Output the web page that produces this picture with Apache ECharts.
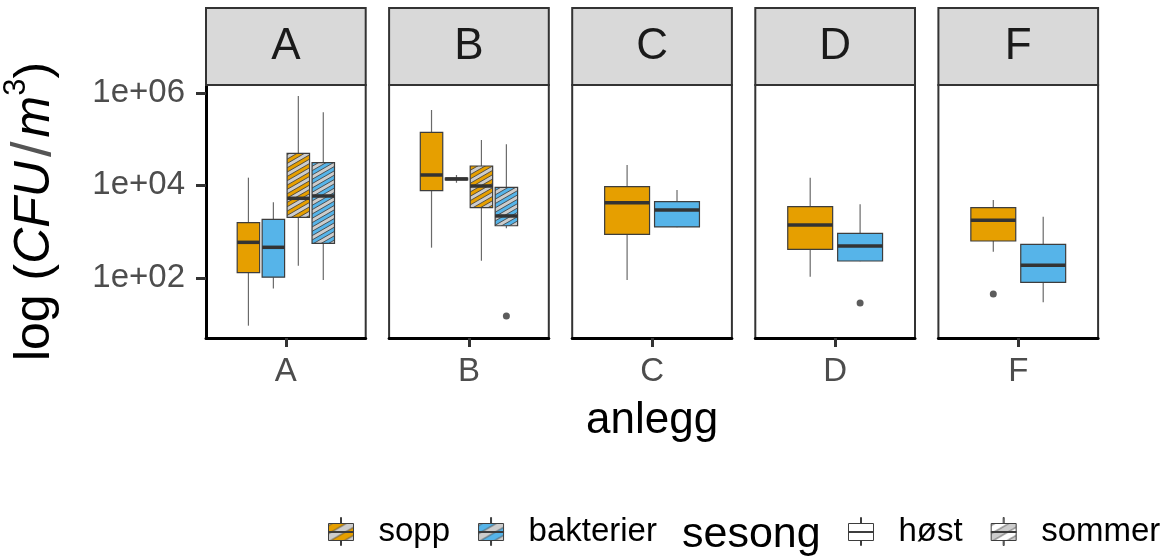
<!DOCTYPE html>
<html>
<head>
<meta charset="utf-8">
<script src="https://cdn.jsdelivr.net/npm/echarts@6/dist/echarts.min.js"></script>
<style>
html,body{margin:0;padding:0;background:#fff;}
#chart{width:1168px;height:559px;}
</style>
</head>
<body>
<div id="chart"></div>
<script>
// ---------------- data (CFU/m3) ----------------
const panels = ['A', 'B', 'C', 'D', 'F'];
// each entry: [lower whisker, Q1, median, Q3, upper whisker]; null = no such group in that panel
const soppHost = [
  [9.2, 129, 586, 1560, 14700],
  [449, 7680, 16800, 141000, 428000],
  [90, 875, 4220, 9370, 27700],
  [106, 414, 1390, 3460, 14700],
  [367, 626, 1757, 3290, 4830]
];
const bakterierHost = [
  [59, 103, 457, 1846, 4310],
  [11400, 13200, 13800, 14400, 16800],
  [1240, 1260, 2940, 4440, 7950],
  [228, 231, 488, 919, 3900],
  [29.5, 80, 187, 531, 2100]
];
const soppSommer = [
  [183, 2040, 5260, 49500, 861000],
  [234, 3290, 9700, 26300, 96100],
  null, null, null
];
const bakterierSommer = [
  [90, 558, 5900, 31000, 382000],
  [1180, 1340, 2180, 9100, 77600],
  null, null, null
];
// outliers
const outlierPanel = ['B', 'D', 'F'];
const outlierGroup = [3, 1, 0];          // index into groupStats
const outlierValue = [14.9, 28.5, 44.6];
// y-axis ticks
const yTickValues = [100, 10000, 1000000];
const yTickLabels = ['1e+02', '1e+04', '1e+06'];

// ---------------- styling / layout ----------------
const FONT = "'Liberation Sans', Arial, Helvetica, sans-serif";
const ORANGE = '#E69F00', BLUE = '#56B4E9';
const Y_MIN = 0.697, Y_MAX = 6.173;     // log10 range of the panels
const PANEL_LEFT0 = 206, PANEL_STEP = 183.1, PANEL_W = 159.7;
const PANEL_TOP = 85, PANEL_BOTTOM_Y = 338;
const DODGE = 0.75;

function makeHatch(bg, P) {
  const th = Math.PI / 6;
  const W = Math.round(8 * P), H = Math.round(6 * P / Math.cos(th));
  const c = document.createElement('canvas');
  c.width = W; c.height = H;
  const ctx = c.getContext('2d');
  ctx.fillStyle = bg; ctx.fillRect(0, 0, W, H);
  ctx.save();
  ctx.rotate(-th);
  for (let k = -30; k <= 30; k++) {
    const y0 = k * P;
    ctx.fillStyle = '#cccccc';
    ctx.fillRect(-400, y0, 800, P / 2);
    ctx.strokeStyle = '#333333';
    ctx.lineWidth = 0.7;
    ctx.beginPath();
    ctx.moveTo(-400, y0); ctx.lineTo(400, y0);
    ctx.moveTo(-400, y0 + P / 2); ctx.lineTo(400, y0 + P / 2);
    ctx.stroke();
  }
  ctx.restore();
  return { image: c, repeat: 'repeat' };
}

const groupStats = [soppHost, bakterierHost, soppSommer, bakterierSommer];
const groupFill = [ORANGE, BLUE, makeHatch(ORANGE, 7.5), makeHatch(BLUE, 7.5)];

const grids = [], xAxes = [], yAxes = [], series = [], graphics = [];
const log10 = Math.log10;

panels.forEach((p, i) => {
  const left = PANEL_LEFT0 + i * PANEL_STEP;
  grids.push({
    left: left, top: PANEL_TOP, width: PANEL_W, height: PANEL_BOTTOM_Y - PANEL_TOP,
    show: true, backgroundColor: '#ffffff', borderColor: '#333333', borderWidth: 2
  });
  xAxes.push({
    gridIndex: i, type: 'value', min: -0.6, max: 0.6,
    axisLine: { show: true, onZero: false, lineStyle: { color: '#000', width: 3 } },
    axisTick: { show: true, customValues: [0], length: 9, lineStyle: { color: '#333', width: 3 } },
    axisLabel: { show: true, customValues: [0], formatter: () => p, fontSize: 33, color: '#4d4d4d', margin: 17, fontFamily: FONT },
    splitLine: { show: false },
    name: i === 2 ? 'anlegg' : '', nameLocation: 'middle', nameGap: 61,
    nameTextStyle: { fontSize: 44, color: '#000', fontFamily: FONT }
  });
  yAxes.push({
    gridIndex: i, type: 'value', min: Y_MIN, max: Y_MAX, show: i === 0,
    axisLine: { show: true, onZero: false, lineStyle: { color: '#000', width: 3 } },
    axisTick: { show: true, customValues: yTickValues.map(log10), length: 10, lineStyle: { color: '#333', width: 3 } },
    axisLabel: {
      show: true, customValues: yTickValues.map(log10),
      formatter: v => {
        let best = 0;
        yTickValues.forEach((t, k) => { if (Math.abs(log10(t) - v) < Math.abs(log10(yTickValues[best]) - v)) best = k; });
        return yTickLabels[best];
      },
      fontSize: 33, color: '#4d4d4d', margin: 21, fontFamily: FONT
    },
    splitLine: { show: false },
    name: i === 0 ? '{n|log (}{i|CFU}{sl|/}{i|m}{sup|3}{n|)}' : '',
    nameLocation: 'middle', nameRotate: 90, nameGap: 137,
    nameTextStyle: {
      fontSize: 50, color: '#000', fontFamily: FONT,
      rich: {
        n: { fontSize: 50, fontFamily: FONT, color: '#000', lineHeight: 68 },
        i: { fontSize: 50, fontFamily: FONT, color: '#000', fontStyle: 'italic', lineHeight: 68 },
        sl: { fontSize: 56, fontFamily: FONT, color: '#555', padding: [0, 4, 0, 4], lineHeight: 68 },
        sup: { fontSize: 31, fontFamily: FONT, color: '#000', verticalAlign: 'top', lineHeight: 31 }
      }
    }
  });

  // groups present in this panel, dodged like position_dodge(0.75)
  const present = [];
  groupStats.forEach((g, gi) => { if (g[i]) present.push(gi); });
  const n = present.length;
  const xOf = gi => (present.indexOf(gi) - (n - 1) / 2) * DODGE / n;
  const boxW = 0.9 * DODGE / n;
  const boxData = present.map(gi => {
    const s = groupStats[gi][i];
    return [xOf(gi), log10(s[0]), log10(s[1]), log10(s[2]), log10(s[3]), log10(s[4]), gi, boxW];
  });
  series.push({
    type: 'custom', name: 'box-' + p, xAxisIndex: i, yAxisIndex: i,
    data: boxData, encode: { x: 0, y: [1, 2, 3, 4, 5] }, silent: true, z: 3,
    renderItem: function (params, api) {
      const x = api.value(0);
      const c = v => api.coord([x, v]);
      const pMin = c(api.value(1)), pQ1 = c(api.value(2)), pMed = c(api.value(3)),
            pQ3 = c(api.value(4)), pMax = c(api.value(5));
      const gi = api.value(6);
      const w = api.size([api.value(7), 0])[0];
      const cx = pMed[0];
      const wh = { stroke: '#6a6a6a', lineWidth: 1.2 };
      return {
        type: 'group', children: [
          { type: 'line', shape: { x1: cx, y1: pQ3[1], x2: cx, y2: pMax[1] }, style: wh },
          { type: 'line', shape: { x1: cx, y1: pQ1[1], x2: cx, y2: pMin[1] }, style: wh },
          { type: 'rect', shape: { x: cx - w / 2, y: pQ3[1], width: w, height: pQ1[1] - pQ3[1] },
            style: { fill: groupFill[gi], stroke: '#3d3d3d', lineWidth: 1.2 } },
          { type: 'line', shape: { x1: cx - w / 2, y1: pMed[1], x2: cx + w / 2, y2: pMed[1] },
            style: { stroke: '#333333', lineWidth: 3.5 } }
        ]
      };
    }
  });

  const outs = [];
  outlierPanel.forEach((op, k) => {
    if (op === p) outs.push([xOf(outlierGroup[k]), log10(outlierValue[k])]);
  });
  if (outs.length) {
    series.push({
      type: 'scatter', name: 'out-' + p, xAxisIndex: i, yAxisIndex: i, data: outs,
      symbol: 'circle', symbolSize: 7, itemStyle: { color: '#333333' }, silent: true, z: 4
    });
  }

  // facet strip
  graphics.push({
    type: 'rect', shape: { x: left, y: 8, width: PANEL_W, height: PANEL_TOP - 8 },
    style: { fill: '#d9d9d9', stroke: '#333333', lineWidth: 2 }, z: 10
  });
  graphics.push({
    type: 'text', x: left + PANEL_W / 2, y: 47, z: 11,
    style: { text: p, fontSize: 44, fontFamily: FONT, fill: '#1a1a1a', align: 'center', verticalAlign: 'middle' }
  });
});

// legend-only series
const legendNames = ['sopp', 'bakterier', 'høst', 'sommer'];
legendNames.forEach(nm => {
  series.push({ type: 'custom', name: nm, xAxisIndex: 0, yAxisIndex: 0, data: [], renderItem: () => null });
});
const keyPath = 'path://M0,6H25V23H0Z M12,0H13V6H12Z M12,23H13V28H12Z M0,14H25V15H0Z';
const keyStyle = fill => ({ color: fill, borderColor: '#3d3d3d', borderWidth: 1 });
const legendCommon = {
  orient: 'horizontal', top: 515, itemWidth: 25, itemHeight: 28, itemGap: 28, padding: 0,
  selectedMode: false,
  textStyle: { fontSize: 33, color: '#000', fontFamily: FONT, padding: [0, 0, 0, 20] }
};

const option = {
  animation: false,
  backgroundColor: '#ffffff',
  grid: grids, xAxis: xAxes, yAxis: yAxes, series: series,
  graphic: graphics,
  title: {
    text: 'sesong', left: 682, top: 514, padding: 0,
    textStyle: { fontSize: 43, fontWeight: 'normal', color: '#000', fontFamily: FONT }
  },
  legend: [
    Object.assign({}, legendCommon, {
      left: 328,
      data: [
        { name: 'sopp', icon: keyPath, itemStyle: keyStyle(makeHatch(ORANGE, 14)) },
        { name: 'bakterier', icon: keyPath, itemStyle: keyStyle(makeHatch(BLUE, 14)) }
      ]
    }),
    Object.assign({}, legendCommon, {
      left: 848,
      data: [
        { name: 'høst', icon: keyPath, itemStyle: keyStyle('#ffffff') },
        { name: 'sommer', icon: keyPath, itemStyle: keyStyle(makeHatch('#ffffff', 14)) }
      ]
    })
  ]
};

const chart = echarts.init(document.getElementById('chart'), null, { renderer: 'canvas' });
chart.setOption(option);
</script>
</body>
</html>
